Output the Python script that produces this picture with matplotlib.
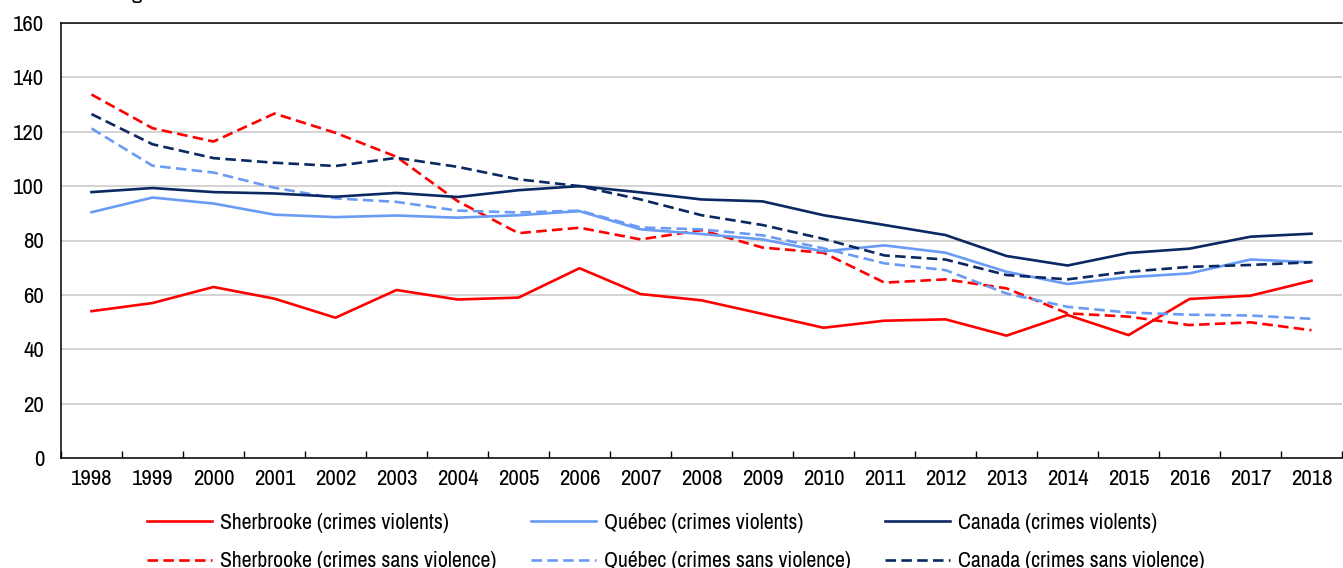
import numpy as np
import matplotlib
matplotlib.use("Agg")
import matplotlib.pyplot as plt

plt.rcParams['font.family'] = ['Liberation Sans Narrow', 'Archivo Narrow', 'Roboto Condensed',
                               'PT Sans Narrow', 'IBM Plex Sans Condensed', 'DejaVu Sans']

# years and index values per series
years = [str(y) for y in range(1998, 2019)]

sherb_viol = [54.0, 57.0, 62.9, 58.6, 51.6, 61.8, 58.3, 59.0, 69.8, 60.3, 58.0,
              53.0, 47.9, 50.5, 51.0, 45.0, 52.6, 45.2, 58.5, 59.7, 65.2]
sherb_nonviol = [133.7, 121.3, 116.4, 126.7, 119.6, 110.8, 94.5, 82.7, 84.7, 80.4, 83.8,
                 77.4, 75.5, 64.5, 65.7, 62.4, 53.2, 52.0, 48.9, 49.9, 47.0]
qc_viol = [90.4, 95.8, 93.6, 89.5, 88.6, 89.2, 88.4, 89.3, 90.8, 84.1, 82.4,
           80.4, 76.0, 78.2, 75.5, 68.5, 64.0, 66.5, 67.9, 73.0, 72.0]
qc_nonviol = [121.2, 107.5, 105.0, 99.4, 95.5, 94.2, 91.0, 90.3, 91.0, 84.8, 84.1,
              81.9, 77.1, 71.6, 69.1, 60.5, 55.6, 53.5, 52.7, 52.4, 51.2]
can_viol = [97.8, 99.3, 97.8, 97.3, 96.1, 97.5, 96.0, 98.5, 100.0, 97.7, 95.1,
            94.4, 89.3, 85.7, 82.0, 74.3, 70.8, 75.4, 77.0, 81.4, 82.5]
can_nonviol = [126.5, 115.4, 110.3, 108.6, 107.4, 110.4, 107.1, 102.5, 100.0, 95.1, 89.3,
               85.7, 80.6, 74.5, 73.0, 67.3, 65.7, 68.5, 70.3, 71.0, 72.0]

red = '#FF0000'
light = '#6A9BF5'
navy = '#0B2863'

fig = plt.figure(figsize=(13.43, 5.68), dpi=100)
ax = fig.add_axes([61 / 1343, 1 - 458 / 568, 1281 / 1343, 435 / 568])

x = np.arange(len(years))
lw = 1.9
dash = (4, 2)
ax.plot(x, sherb_viol, color=red, lw=lw, label='Sherbrooke (crimes violents)')
ax.plot(x, sherb_nonviol, color=red, lw=lw, dashes=dash, label='Sherbrooke (crimes sans violence)')
ax.plot(x, qc_viol, color=light, lw=lw, label='Québec (crimes violents)')
ax.plot(x, qc_nonviol, color=light, lw=lw, dashes=dash, label='Québec (crimes sans violence)')
ax.plot(x, can_viol, color=navy, lw=lw, label='Canada (crimes violents)')
ax.plot(x, can_nonviol, color=navy, lw=lw, dashes=dash, label='Canada (crimes sans violence)')

ax.set_xlim(-0.5, len(years) - 0.5)
ax.set_ylim(0, 160)
ax.set_yticks(range(0, 161, 20))
ax.yaxis.grid(True, color='#C8C8C8', lw=1.1)
ax.set_axisbelow(True)

ax.set_xticks(x)
ax.set_xticklabels(years)
ax.set_xticks(np.arange(-0.5, len(years), 1), minor=True)
ax.tick_params(axis='x', which='major', length=0, pad=8, labelsize=16.5)
ax.tick_params(axis='x', which='minor', direction='in', length=5, width=1)
ax.tick_params(axis='y', length=0, pad=12, labelsize=16.5)

for side in ['left', 'bottom', 'top']:
    ax.spines[side].set_color('black')
    ax.spines[side].set_linewidth(1.1)
ax.spines['right'].set_visible(False)

# axis title sits just above the canvas edge, as in the source layout
fig.text(54 / 1343, 1.0 + 1 / 568, 'Indice de gravité', fontsize=15.7, ha='left', va='baseline')

ax.legend(loc='upper left', bbox_to_anchor=(147 / 1343, 1 - 513 / 568),
          bbox_transform=fig.transFigure, ncol=3, frameon=False, fontsize=15.7,
          handlelength=3.0, handletextpad=0.37, columnspacing=1.55, labelspacing=0.84,
          borderaxespad=0, borderpad=0)

fig.savefig('out.png', dpi=100)
